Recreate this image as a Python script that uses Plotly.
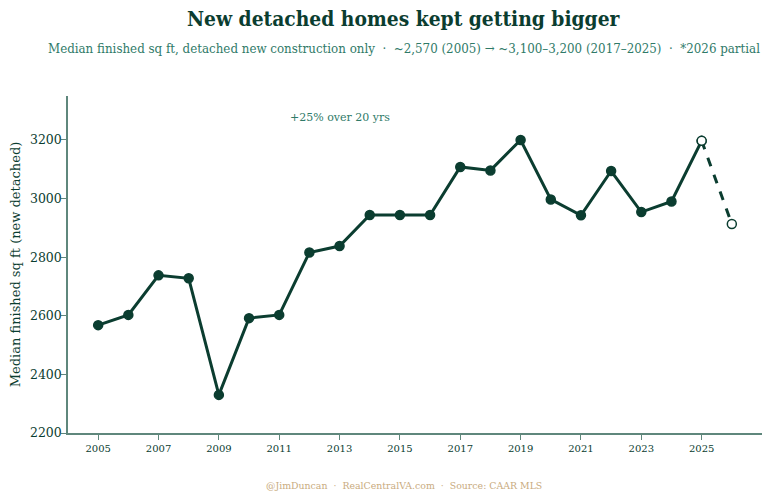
import plotly.graph_objects as go

# median finished sq ft, detached new construction
years = [2005, 2006, 2007, 2008, 2009, 2010, 2011, 2012, 2013, 2014, 2015,
         2016, 2017, 2018, 2019, 2020, 2021, 2022, 2023, 2024, 2025]
median_sqft = [2568, 2603, 2738, 2728, 2330, 2592, 2603, 2816, 2838, 2944, 2944,
               2944, 3108, 3096, 3200, 2997, 2943, 3094, 2954, 2990, 3197]

partial_years = [2025, 2026]
partial_sqft = [3197, 2913]

x_ticks = [2005, 2007, 2009, 2011, 2013, 2015, 2017, 2019, 2021, 2023, 2025]
y_ticks = [2200, 2400, 2600, 2800, 3000, 3200]

dark = '#0b3d30'
teal = '#2f7a68'
axis_col = '#5f877c'
tan = '#c9ab80'
condensed = 'DejaVu Serif Condensed, DejaVu Serif'

# last full point drawn hollow, like the partial year
fill_cols = [dark] * (len(years) - 1) + ['white']

fig = go.Figure()
fig.add_trace(go.Scatter(
    x=years, y=median_sqft, mode='lines+markers',
    line=dict(color=dark, width=3),
    marker=dict(size=9, color=fill_cols, line=dict(color=dark, width=1.5)),
    showlegend=False))
fig.add_trace(go.Scatter(
    x=partial_years, y=partial_sqft, mode='lines+markers',
    line=dict(color=dark, width=3, dash='dash'),
    marker=dict(size=9, color='white', line=dict(color=dark, width=1.5)),
    showlegend=False))

fig.add_annotation(x=2013, y=3275, text='+25% over 20 yrs', showarrow=False,
                   font=dict(family='DejaVu Serif', size=11, color=teal))

fig.add_annotation(xref='paper', yref='paper', x=0.484, y=1.231, yanchor='middle',
                   text='<b>New detached homes kept getting bigger</b>', showarrow=False,
                   font=dict(family=condensed, size=20.8, color=dark))
fig.add_annotation(xref='paper', yref='paper', x=0.484, y=1.142, yanchor='middle',
                   text='Median finished sq ft, detached new construction only  \u00b7  '
                        '~2,570 (2005) \u2192 ~3,100\u20133,200 (2017\u20132025)  \u00b7  *2026 partial',
                   showarrow=False,
                   font=dict(family=condensed, size=13.2, color=teal))
fig.add_annotation(xref='paper', yref='paper', x=0.484, y=-0.157, yanchor='middle',
                   text='@JimDuncan  \u00b7  RealCentralVA.com  \u00b7  Source: CAAR MLS',
                   showarrow=False,
                   font=dict(family='DejaVu Serif', size=9.4, color=tan))

fig.update_xaxes(range=[2004, 2027], tickvals=x_ticks, ticks='outside', ticklen=5,
                 tickcolor=axis_col, showline=True, linecolor=axis_col, linewidth=1.5,
                 showgrid=False, zeroline=False,
                 tickfont=dict(family='DejaVu Serif', size=10, color=dark))
fig.update_yaxes(range=[2200, 3350], tickvals=y_ticks, ticks='outside', ticklen=5,
                 tickcolor=axis_col, showline=True, linecolor=axis_col, linewidth=1.5,
                 showgrid=False, zeroline=False, automargin=False, ticklabelstandoff=-3,
                 tickfont=dict(family='DejaVu Serif', size=12.5, color=dark),
                 title=dict(text='Median finished sq ft (new detached)', standoff=6,
                            font=dict(family='DejaVu Serif', size=13, color=dark)))

fig.update_layout(
    width=772, height=500,
    margin=dict(l=60, r=18, t=88, b=75),
    plot_bgcolor='white', paper_bgcolor='white',
    font=dict(family='DejaVu Serif', color=dark))

fig.write_html('out.html')
